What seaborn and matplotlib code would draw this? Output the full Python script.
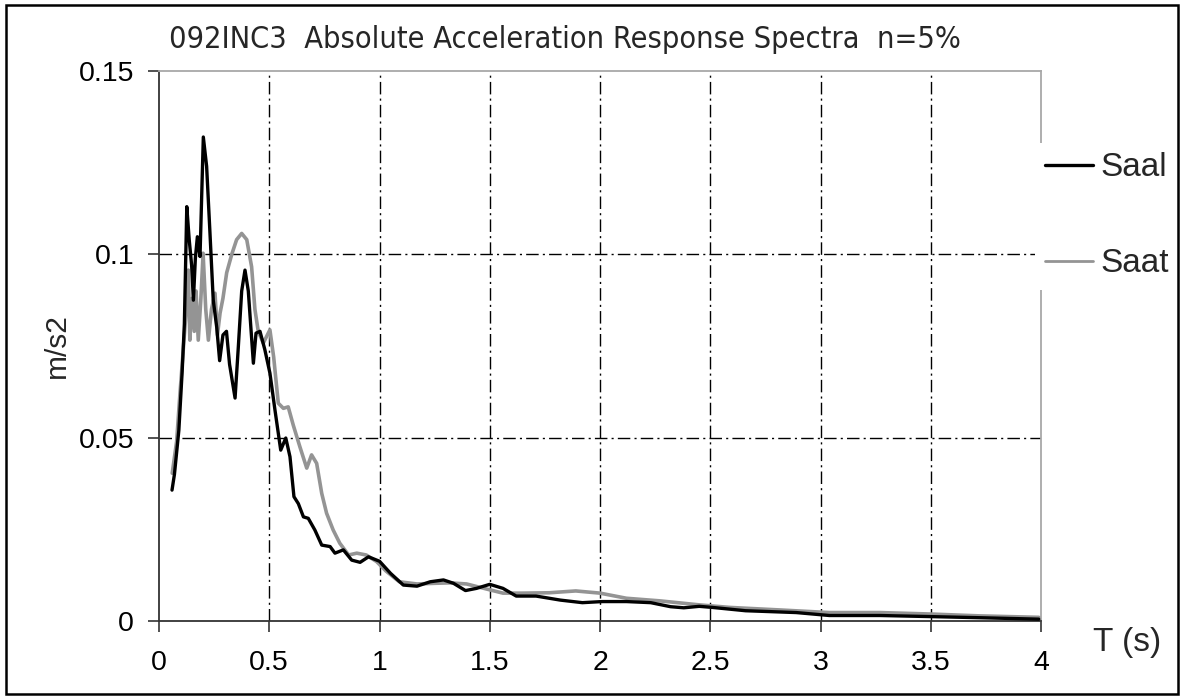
import matplotlib
matplotlib.use("Agg")
import matplotlib.pyplot as plt
import seaborn as sns
import pandas as pd
from matplotlib.patches import Rectangle
from matplotlib.lines import Line2D

# ---- data ----
t_saal = [0.059, 0.07, 0.09, 0.105, 0.115, 0.126, 0.137, 0.148, 0.156, 0.165, 0.174, 0.186,
          0.201, 0.216, 0.231, 0.246, 0.262, 0.275, 0.29, 0.306, 0.32, 0.345, 0.36, 0.375,
          0.39, 0.405, 0.428, 0.44, 0.458, 0.48, 0.503, 0.526, 0.552, 0.575, 0.594, 0.612,
          0.632, 0.655, 0.677, 0.707, 0.738, 0.776, 0.798, 0.836, 0.874, 0.912, 0.95, 1.0,
          1.05, 1.108, 1.17, 1.23, 1.29, 1.335, 1.39, 1.44, 1.50, 1.56, 1.62, 1.71, 1.82,
          1.92, 2.01, 2.12, 2.23, 2.32, 2.38, 2.45, 2.51, 2.66, 2.89, 3.04, 3.27, 3.50,
          3.72, 3.99]
a_saal = [0.0357, 0.040, 0.052, 0.068, 0.081, 0.113, 0.104, 0.097, 0.0875, 0.099, 0.1048, 0.0994,
          0.132, 0.124, 0.106, 0.0875, 0.080, 0.071, 0.078, 0.079, 0.070, 0.0608, 0.075, 0.090,
          0.0957, 0.090, 0.0703, 0.0785, 0.079, 0.074, 0.0676, 0.0575, 0.0466, 0.0499, 0.0448, 0.0339,
          0.032, 0.0284, 0.028, 0.0248, 0.0207, 0.0203, 0.0185, 0.0194, 0.0166, 0.0160, 0.0175, 0.0163,
          0.0130, 0.0098, 0.0095, 0.0107, 0.0112, 0.0103, 0.0083, 0.0089, 0.0100, 0.0089, 0.0068, 0.0068, 0.0057,
          0.0050, 0.0053, 0.0053, 0.0050, 0.0039, 0.0036, 0.0040, 0.0037, 0.0028, 0.0023, 0.0015, 0.0015, 0.0012,
          0.0009, 0.0005]

t_saat = [0.06, 0.08, 0.095, 0.11, 0.12, 0.133, 0.14, 0.15, 0.16, 0.168, 0.178, 0.19, 0.2,
          0.212, 0.224, 0.238, 0.254, 0.265, 0.277, 0.29, 0.307, 0.33, 0.352, 0.375, 0.398,
          0.42, 0.435, 0.45, 0.473, 0.503, 0.52, 0.541, 0.564, 0.586, 0.609, 0.639, 0.67,
          0.692, 0.715, 0.738, 0.76, 0.79, 0.82, 0.86, 0.897, 0.94, 0.987, 1.03, 1.09, 1.17,
          1.26, 1.32, 1.395, 1.50, 1.56, 1.65, 1.77, 1.89, 2.0, 2.12, 2.27, 2.45, 2.59, 2.82,
          3.04, 3.27, 3.50, 3.72, 3.99]
a_saat = [0.0403, 0.049, 0.062, 0.074, 0.082, 0.0957, 0.0766, 0.088, 0.079, 0.090, 0.0766, 0.088, 0.1003,
          0.085, 0.0766, 0.085, 0.0894, 0.078, 0.084, 0.088, 0.095, 0.100, 0.104, 0.1057, 0.104,
          0.0966, 0.085, 0.079, 0.0758, 0.0794, 0.072, 0.0594, 0.058, 0.0584, 0.0534, 0.0475, 0.0417,
          0.0453, 0.043, 0.0348, 0.0294, 0.0248, 0.0212, 0.018, 0.0185, 0.018, 0.0162, 0.0136, 0.0107, 0.0101,
          0.0103, 0.0104, 0.0101, 0.0085, 0.0076, 0.0076, 0.0077, 0.0082, 0.0076, 0.0062, 0.0055, 0.0044, 0.0037, 0.0030,
          0.0023, 0.0023, 0.0019, 0.0014, 0.0010]

series_names = ["Saal", "Saat"]
x_ticks = [0, 0.5, 1, 1.5, 2, 2.5, 3, 3.5, 4]
x_ticklabels = ["0", "0.5", "1", "1.5", "2", "2.5", "3", "3.5", "4"]
y_ticks = [0, 0.05, 0.1, 0.15]
y_ticklabels = ["0", "0.05", "0.1", "0.15"]
title_text = "092INC3  Absolute Acceleration Response Spectra  n=5%"
x_label = "T (s)"
y_label = "m/s2"

# ---- style ----
sns.set_style("white")
plt.rcParams["font.family"] = ["Liberation Sans", "DejaVu Sans"]

W, H = 1183, 698
fig = plt.figure(figsize=(W / 100, H / 100), dpi=100)
ax = fig.add_axes([159 / W, 1 - 621 / H, (1041 - 159) / W, (621 - 71) / H])

df_saal = pd.DataFrame({"T": t_saal, "A": a_saal})
df_saat = pd.DataFrame({"T": t_saat, "A": a_saat})

col_saal = "#000000"
col_saat = "#949494"

sns.lineplot(data=df_saat, x="T", y="A", ax=ax, color=col_saat, lw=2.6,
             sort=False, estimator=None, zorder=3)
sns.lineplot(data=df_saal, x="T", y="A", ax=ax, color=col_saal, lw=2.4,
             sort=False, estimator=None, zorder=4)

ax.set_xlim(0, 4)
ax.set_ylim(0, 0.15)
ax.set_xticks(x_ticks)
ax.set_xticklabels(x_ticklabels)
ax.set_yticks(y_ticks)
ax.set_yticklabels(y_ticklabels)

ax.tick_params(axis="both", which="major", labelsize=20.5, direction="out",
               length=8, width=1.2, color="#333333", labelcolor="black")
ax.tick_params(axis="y", pad=10, left=True)
ax.tick_params(axis="x", pad=13, bottom=True)

# spines
for s in ["left", "bottom"]:
    ax.spines[s].set_color("#333333")
    ax.spines[s].set_linewidth(1.3)
for s in ["top", "right"]:
    ax.spines[s].set_color("#a8a8a8")
    ax.spines[s].set_linewidth(1.3)

# grid: dash-dot, interior only
ax.grid(True, color="black", linewidth=1.0, linestyle=(0, (9, 3, 1.5, 3)))
xg = ax.xaxis.get_gridlines()
yg = ax.yaxis.get_gridlines()
for g in (xg[0], xg[-1], yg[0], yg[-1]):
    g.set_visible(False)
ax.set_axisbelow(True)

# labels
ax.set_xlabel(x_label, fontsize=24, va="center", ha="center")
ax.xaxis.set_label_coords((1127 - 159) / 882, (621 - 642) / 550)
ax.set_ylabel(y_label, fontsize=21.5, va="center", ha="center")
ax.yaxis.set_label_coords((57 - 159) / 882, 0.5)

fig.text(565 / W, 1 - 40 / H, title_text, ha="center", va="center", fontsize=22,
         family="DejaVu Sans", fontstretch="condensed")

# legend
handles = [Line2D([], [], color=col_saal, lw=2.4), Line2D([], [], color=col_saat, lw=2.0)]
leg = ax.legend(handles, series_names, loc="center left",
                bbox_to_anchor=(1035 / W, 1 - 216 / H), bbox_transform=fig.transFigure,
                fontsize=24, frameon=True, facecolor="white", edgecolor="none", framealpha=1,
                fancybox=False, borderpad=0.3, borderaxespad=0, handlelength=1.45,
                handletextpad=0.2, labelspacing=1.95)
leg.set_zorder(10)

# outer frame
fig.patches.append(Rectangle((6 / W, 4 / H), (1178 - 6) / W, (694 - 5) / H,
                             transform=fig.transFigure, fill=False, edgecolor="black",
                             linewidth=1.8, zorder=20))

fig.savefig("out.png", dpi=100, facecolor="white")
